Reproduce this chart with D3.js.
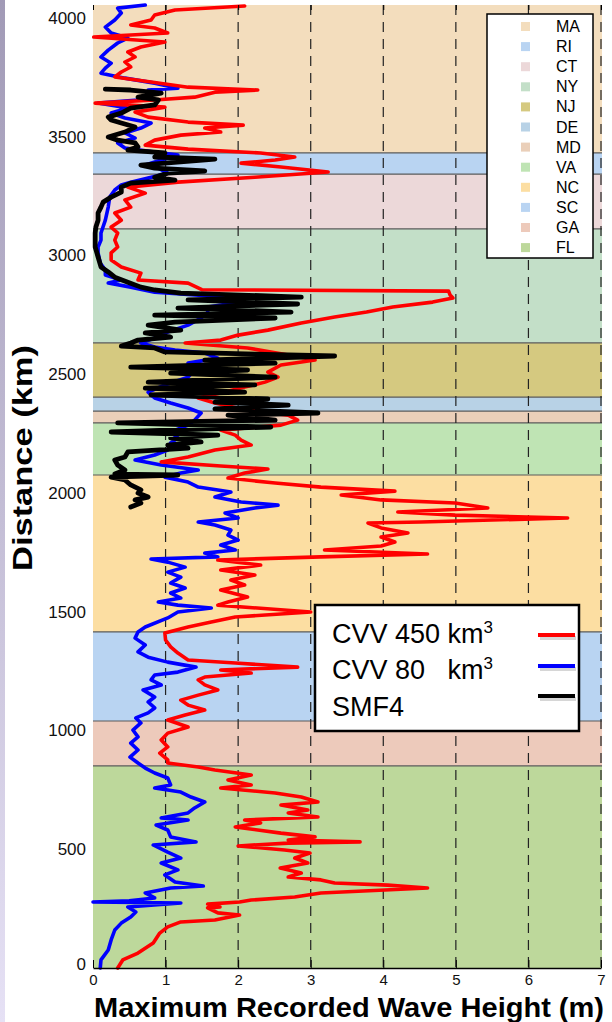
<!DOCTYPE html>
<html>
<head>
<meta charset="utf-8">
<script src="https://cdn.jsdelivr.net/npm/d3@7"></script>
<style>
  body { margin: 0; background: #fff; }
  svg { font-family: "Liberation Sans", Arial, Helvetica, sans-serif; }
</style>
</head>
<body>
<svg id="chart" width="612" height="1022"></svg>
<script>
// states along the coast, bottom (FL) to top (MA); boundaries in km
const stateNames = ["FL", "GA", "SC", "NC", "VA", "MD", "DE", "NJ", "NY", "CT", "RI", "MA"];
const stateBounds = [0, 851, 1040, 1415, 2076, 2295, 2345, 2404, 2632, 3112, 3343, 3432, 4055];
const stateColors = ["#bdd89b", "#edcabb", "#b9d4f2", "#fcdea2", "#bfe4b4", "#eacfb9",
                     "#b8d2e6", "#d5c980", "#c3dfc8", "#ecd8d9", "#b9d4f2", "#f3ddbd"];

const xTicks = [0, 1, 2, 3, 4, 5, 6, 7];
const yTicks = [0, 500, 1000, 1500, 2000, 2500, 3000, 3500, 4000];

// [distance km, max wave height m]
const red450 = [[0,0.34],[34,0.41],[63,0.62],[105,0.83],[147,0.92],[173,1.03],[194,1.21],[202,1.68],[223,2.02],[232,1.72],[253,1.58],[257,1.75],[269,1.58],[278,2.02],[286,2.18],[299,2.78],[316,3.14],[337,4.61],[349,4.06],[358,3.33],[371,3.14],[383,2.69],[400,2.87],[421,2.58],[442,2.96],[463,2.78],[484,2.99],[497,2.64],[514,2.0],[526,2.69],[531,3.68],[539,2.69],[552,3.06],[568,2.59],[594,1.96],[611,2.31],[623,2.09],[636,3.10],[653,2.69],[665,2.96],[686,2.59],[699,3.10],[720,2.87],[737,2.51],[758,1.76],[771,2.18],[792,1.86],[813,2.18],[834,1.68],[846,1.45],[863,1.03],[876,1.03],[905,0.92],[931,1.03],[960,0.94],[989,1.03],[1015,1.31],[1044,1.03],[1065,1.27],[1086,1.54],[1107,1.31],[1128,1.21],[1149,1.45],[1171,1.72],[1192,1.54],[1213,1.45],[1225,1.54],[1242,2.18],[1255,1.76],[1267,2.82],[1284,1.96],[1297,1.31],[1326,1.17],[1352,1.07],[1381,1.0],[1411,0.99],[1436,1.31],[1457,1.63],[1478,1.96],[1499,3.0],[1528,1.72],[1541,1.86],[1562,2.13],[1592,1.76],[1613,2.09],[1634,1.9],[1655,2.23],[1676,1.76],[1697,2.31],[1718,1.72],[1731,3.14],[1743,4.61],[1760,3.19],[1777,3.97],[1794,4.16],[1815,3.97],[1832,4.34],[1853,3.97],[1874,3.79],[1878,4.52],[1895,6.54],[1907,4.99],[1920,4.2],[1937,5.44],[1958,4.99],[1971,3.97],[1992,3.42],[2008,4.16],[2025,3.14],[2042,2.51],[2063,1.86],[2084,2.09],[2101,2.41],[2114,1.76],[2131,0.94],[2152,1.31],[2181,1.68],[2202,2.18],[2223,2.04],[2244,1.96],[2265,1.76],[2286,2.59],[2307,2.82],[2328,2.69],[2349,2.13],[2379,1.68],[2400,1.45],[2421,1.76],[2446,2.09],[2467,2.37],[2488,2.55],[2509,2.41],[2539,2.59],[2560,3.06],[2581,2.69],[2611,2.13],[2632,1.27],[2644,1.76],[2665,2.0],[2686,2.41],[2716,2.87],[2741,3.33],[2762,3.77],[2783,4.13],[2804,4.68],[2821,4.96],[2834,4.92],[2850,4.9],[2856,1.5],[2884,1.31],[2897,0.62],[2926,0.66],[2952,0.39],[2981,0.25],[3011,0.25],[3036,0.34],[3065,0.3],[3095,0.34],[3120,0.25],[3149,0.39],[3179,0.3],[3204,0.52],[3234,0.44],[3263,0.72],[3288,0.48],[3309,1.17],[3330,2.23],[3352,3.24],[3373,2.59],[3389,2.04],[3402,2.51],[3415,2.78],[3432,2.31],[3448,1.31],[3465,0.72],[3486,0.85],[3507,1.21],[3520,1.76],[3537,1.54],[3549,2.07],[3562,1.31],[3583,0.76],[3604,0.58],[3625,0.99],[3642,0.03],[3655,0.85],[3667,1.4],[3688,1.68],[3697,2.27],[3709,1.31],[3731,0.8],[3752,0.3],[3773,0.39],[3794,0.52],[3815,0.44],[3836,0.58],[3857,0.48],[3878,0.66],[3899,0.99],[3920,0.01],[3937,1.03],[3958,0.85],[3971,0.52],[3992,0.8],[4013,0.85],[4034,1.13],[4051,2.09]];

const blue80 = [[0,0.1],[34,0.11],[76,0.21],[118,0.25],[160,0.3],[189,0.39],[215,0.52],[236,0.59],[257,0.48],[274,1.21],[278,0.0],[283,0.5],[295,0.85],[316,0.72],[337,1.07],[345,1.52],[362,1.13],[392,0.99],[413,1.17],[442,0.94],[463,1.21],[488,1.03],[518,0.83],[531,1.42],[552,1.07],[581,1.03],[602,0.87],[623,1.31],[632,0.94],[653,1.31],[674,1.4],[699,1.54],[720,1.35],[741,1.21],[758,0.85],[771,1.07],[800,1.03],[821,0.85],[842,0.72],[863,0.62],[888,0.51],[918,0.62],[947,0.52],[973,0.62],[1002,0.55],[1032,0.66],[1053,0.59],[1074,0.76],[1095,0.85],[1120,0.76],[1141,0.85],[1171,0.69],[1192,0.94],[1213,0.8],[1234,0.85],[1246,1.17],[1267,1.42],[1288,1.03],[1309,0.76],[1331,0.62],[1360,0.72],[1389,0.58],[1415,0.62],[1436,0.72],[1474,1.03],[1499,1.17],[1516,1.63],[1528,1.17],[1541,0.9],[1558,1.21],[1579,1.07],[1600,1.27],[1621,1.07],[1646,1.21],[1667,1.03],[1688,1.27],[1709,1.03],[1722,0.8],[1731,1.72],[1747,1.54],[1760,1.96],[1781,1.76],[1802,2.0],[1823,1.86],[1844,1.9],[1865,1.68],[1878,1.45],[1895,2.0],[1916,1.82],[1937,2.23],[1949,2.55],[1962,2.04],[1983,1.68],[2004,1.9],[2025,1.45],[2046,1.31],[2067,0.99],[2084,1.21],[2097,1.45],[2118,0.94],[2139,0.58],[2160,0.85],[2181,1.03],[2211,1.07],[2232,1.17],[2257,1.07],[2286,1.31],[2307,1.4],[2337,1.49],[2358,1.31],[2379,1.07],[2400,0.85],[2425,0.76],[2455,0.99],[2488,1.31],[2518,1.4],[2547,1.31],[2568,1.72],[2589,1.54],[2602,1.13],[2615,0.85],[2632,0.66],[2653,0.85],[2678,1.03],[2707,1.31],[2737,1.49],[2762,1.58],[2783,1.58],[2804,2.04],[2825,1.86],[2846,0.85],[2867,0.52],[2884,0.21],[2897,0.39],[2918,0.17],[2939,0.17],[2968,0.1],[3011,0.07],[3036,0.07],[3065,0.11],[3095,0.11],[3149,0.17],[3204,0.21],[3246,0.23],[3276,0.3],[3297,0.39],[3309,0.52],[3326,0.76],[3347,1.03],[3368,0.9],[3381,0.72],[3402,0.94],[3423,1.17],[3436,0.85],[3453,0.44],[3474,0.34],[3495,0.58],[3516,0.44],[3537,0.66],[3558,0.8],[3579,0.44],[3600,0.25],[3621,0.48],[3642,0.07],[3655,0.62],[3676,0.76],[3697,0.76],[3705,1.17],[3726,0.85],[3747,0.44],[3768,0.11],[3789,0.17],[3810,0.25],[3836,0.11],[3865,0.21],[3895,0.34],[3916,0.48],[3937,0.25],[3962,0.17],[3992,0.3],[4021,0.39],[4042,0.34],[4055,0.72]];

const smf4 = [[1941,0.52],[1958,0.66],[1971,0.58],[1983,0.76],[2000,0.62],[2013,0.66],[2034,0.52],[2055,0.44],[2067,0.25],[2076,1.17],[2080,0.3],[2097,0.44],[2118,0.34],[2139,0.3],[2152,0.44],[2173,0.48],[2189,1.31],[2202,1.03],[2215,1.49],[2232,1.07],[2244,1.72],[2257,0.25],[2278,2.45],[2295,0.34],[2307,2.51],[2328,1.86],[2337,3.10],[2354,1.68],[2370,2.69],[2383,1.68],[2396,2.41],[2413,0.8],[2425,2.09],[2442,0.72],[2455,2.23],[2467,0.76],[2488,2.51],[2505,1.07],[2518,2.13],[2530,0.52],[2547,2.51],[2560,1.54],[2577,3.33],[2594,0.99],[2611,0.85],[2619,0.39],[2632,0.52],[2644,0.62],[2657,1.07],[2674,0.72],[2686,1.21],[2707,0.76],[2720,1.13],[2737,2.51],[2749,0.85],[2762,2.73],[2779,1.17],[2796,2.82],[2813,1.31],[2825,2.87],[2842,1.21],[2855,0.85],[2867,0.66],[2888,0.48],[2909,0.3],[2931,0.21],[2952,0.11],[2994,0.07],[3036,0.03],[3095,0.03],[3120,0.04],[3149,0.07],[3179,0.07],[3204,0.11],[3225,0.14],[3246,0.25],[3267,0.39],[3288,0.39],[3305,0.52],[3318,1.13],[3330,0.85],[3347,1.03],[3356,1.54],[3368,0.85],[3381,0.66],[3389,0.99],[3406,1.68],[3415,0.85],[3432,0.99],[3444,0.48],[3457,0.62],[3474,0.58],[3486,0.34],[3499,0.21],[3520,0.44],[3541,0.58],[3558,0.39],[3571,0.25],[3583,0.21],[3600,0.39],[3621,0.52],[3634,0.85],[3655,0.9],[3667,0.62],[3684,0.94],[3697,0.52],[3701,0.17]];

const seriesNames = ["CVV 450", "CVV 80", "SMF4"];
const seriesColors = ["#ff0000", "#0000ff", "#000000"];

const svg = d3.select("#chart");
const plotLeft = 93, plotRight = 601, plotTop = 5, plotBottom = 968;

const x = d3.scaleLinear().domain([0, 7]).range([plotLeft, plotRight]);
const y = d3.scaleLinear().domain([0, 4055]).range([plotBottom, plotTop]);

// lavender strip on the left edge
const grad = svg.append("defs").append("linearGradient")
    .attr("id", "edge").attr("x1", 0).attr("y1", 0).attr("x2", 0).attr("y2", 1);
grad.append("stop").attr("offset", 0).attr("stop-color", "#a19ab6");
grad.append("stop").attr("offset", 1).attr("stop-color", "#e6e1f5");
svg.append("rect").attr("x", 0).attr("y", 0).attr("width", 5).attr("height", 1022)
    .attr("fill", "url(#edge)");

// state bands
const bands = stateNames.map((s, i) => ({ name: s, lo: stateBounds[i], hi: stateBounds[i + 1], color: stateColors[i] }));
svg.selectAll("rect.band")
    .data(bands)
    .enter()
    .append("rect")
    .attr("class", "band")
    .attr("x", plotLeft)
    .attr("width", plotRight - plotLeft + 1)
    .attr("y", d => y(d.hi))
    .attr("height", d => y(d.lo) - y(d.hi))
    .attr("fill", d => d.color);

svg.selectAll("line.bound")
    .data(stateBounds.slice(1, -1))
    .enter()
    .append("line")
    .attr("class", "bound")
    .attr("x1", plotLeft).attr("x2", plotRight + 1)
    .attr("y1", d => y(d)).attr("y2", d => y(d))
    .attr("stroke", "#5a5a5a")
    .attr("stroke-width", 1.2);

// dashed grid
svg.selectAll("line.grid")
    .data(xTicks.slice(1))
    .enter()
    .append("line")
    .attr("class", "grid")
    .attr("x1", d => x(d)).attr("x2", d => x(d))
    .attr("y1", plotTop).attr("y2", plotBottom)
    .attr("stroke", "#222")
    .attr("stroke-width", 1.2)
    .attr("stroke-dasharray", "10,7");

// curves
const line = d3.line().x(d => x(d[1])).y(d => y(d[0]));
const curves = [
    { data: blue80, color: seriesColors[1], w: 3.6 },
    { data: red450, color: seriesColors[0], w: 3.6 },
    { data: smf4, color: seriesColors[2], w: 4.8 }
];
curves.forEach(c => {
    svg.append("path")
        .datum(c.data)
        .attr("d", line)
        .attr("fill", "none")
        .attr("stroke", c.color)
        .attr("stroke-width", c.w)
        .attr("stroke-linejoin", "round")
        .attr("stroke-linecap", "round");
});

// axes
const xAxis = svg.append("g")
    .attr("transform", `translate(0,${plotBottom})`)
    .call(d3.axisBottom(x).tickValues(xTicks).tickFormat(d3.format("d"))
        .tickSizeInner(-8).tickSizeOuter(0).tickPadding(6));
xAxis.select(".domain").attr("stroke-width", 1.5);
xAxis.selectAll("text").attr("font-size", 15).attr("fill", "#111");

svg.append("g")
    .attr("transform", `translate(0,${plotTop})`)
    .call(d3.axisTop(x).tickValues(xTicks).tickSizeInner(-5).tickSizeOuter(0).tickFormat(""))
    .select(".domain").remove();

const yAxis = svg.append("g")
    .attr("transform", `translate(${plotLeft},0)`)
    .call(d3.axisLeft(y).tickValues(yTicks).tickFormat(d3.format("d")).tickSize(0).tickPadding(7));
yAxis.select(".domain").remove();
yAxis.selectAll("text").attr("font-size", 17).attr("fill", "#111");
yAxis.selectAll(".tick").filter(d => d === 0).select("text").attr("dy", "0.1em");

// axis titles
svg.append("text")
    .attr("x", 349).attr("y", 1017)
    .attr("text-anchor", "middle")
    .attr("font-size", 28).attr("font-weight", "bold")
    .attr("textLength", 510).attr("lengthAdjust", "spacingAndGlyphs")
    .text("Maximum Recorded Wave Height (m)");

svg.append("text")
    .attr("transform", "translate(32,458) rotate(-90)")
    .attr("text-anchor", "middle")
    .attr("font-size", 27).attr("font-weight", "bold")
    .attr("textLength", 226).attr("lengthAdjust", "spacingAndGlyphs")
    .text("Distance (km)");

// state legend (top right), MA first
const stLeg = svg.append("g");
stLeg.append("rect")
    .attr("x", 487).attr("y", 14).attr("width", 106).attr("height", 244)
    .attr("fill", "#fff").attr("stroke", "#000").attr("stroke-width", 1.5);
const legStates = bands.slice().reverse();
stLeg.selectAll("rect.sw")
    .data(legStates)
    .enter()
    .append("rect")
    .attr("class", "sw")
    .attr("x", 521).attr("y", (d, i) => 22 + i * 20.1)
    .attr("width", 9).attr("height", 9)
    .attr("fill", d => d.color);
stLeg.selectAll("text")
    .data(legStates)
    .enter()
    .append("text")
    .attr("x", 556).attr("y", (d, i) => 32 + i * 20.1)
    .attr("font-size", 16)
    .text(d => d.name);

// series legend
const sLeg = svg.append("g");
sLeg.append("rect")
    .attr("x", 315).attr("y", 605).attr("width", 264).attr("height", 126)
    .attr("fill", "#fff").attr("stroke", "#000").attr("stroke-width", 2.5);

const probe = sLeg.append("text").attr("font-size", 27).text(seriesNames[0]);
const kmX = 332 + probe.node().getComputedTextLength() + 27 * 0.278;
probe.remove();

[643, 679].forEach((by, i) => {
    const t = sLeg.append("text").attr("x", 332).attr("y", by).attr("font-size", 27);
    t.append("tspan").text(seriesNames[i]);
    t.append("tspan").attr("x", kmX).text("km");
    t.append("tspan").attr("font-size", 17).attr("dy", -10).text("3");
});
sLeg.append("text").attr("x", 332).attr("y", 716).attr("font-size", 27).text(seriesNames[2]);

[635, 666, 696].forEach((ly, i) => {
    sLeg.append("line")
        .attr("x1", 540).attr("x2", 576).attr("y1", ly + 3).attr("y2", ly + 3)
        .attr("stroke", "#bbb").attr("stroke-width", 4).attr("opacity", 0.6);
    sLeg.append("line")
        .attr("x1", 538).attr("x2", 575).attr("y1", ly).attr("y2", ly)
        .attr("stroke", seriesColors[i]).attr("stroke-width", 4);
});
</script>
</body>
</html>
